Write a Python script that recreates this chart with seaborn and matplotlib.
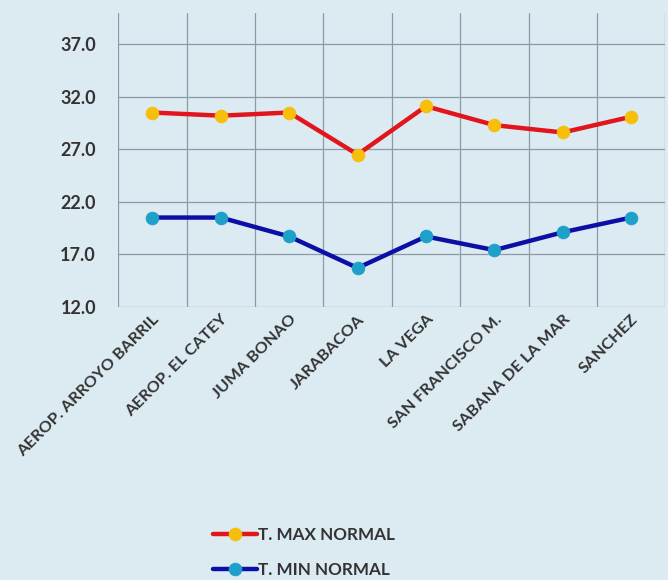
import pandas as pd
import seaborn as sns
import matplotlib
matplotlib.use('Agg')
import matplotlib.pyplot as plt
from matplotlib.ticker import FixedLocator

# Data
stations = ["AEROP. ARROYO BARRIL", "AEROP. EL CATEY", "JUMA BONAO", "JARABACOA",
            "LA VEGA", "SAN FRANCISCO M.", "SABANA DE LA MAR", "SANCHEZ"]
t_max = [30.5, 30.2, 30.5, 26.5, 31.1, 29.3, 28.6, 30.1]
t_min = [20.5, 20.5, 18.7, 15.7, 18.7, 17.4, 19.1, 20.5]
y_ticks = [12.0, 17.0, 22.0, 27.0, 32.0, 37.0]

bg = "#dcebf2"
sns.set_theme(style="white")
plt.rcParams['font.family'] = ['Lato', 'DejaVu Sans']

df = pd.DataFrame({"station": stations, "max": t_max, "min": t_min})

fig = plt.figure(figsize=(6.68, 5.80), dpi=100, facecolor=bg)
ax = fig.add_axes([0.177, 0.471, 0.819, 0.507])
ax.set_facecolor(bg)

sns.lineplot(data=df, x="station", y="max", sort=False, ax=ax, color="#e3151c",
             linewidth=3.2, marker="o", markersize=9, markerfacecolor="#f7be0b",
             markeredgecolor="#f7be0b", label="T. MAX NORMAL", legend=False)
sns.lineplot(data=df, x="station", y="min", sort=False, ax=ax, color="#0b0fa6",
             linewidth=3.2, marker="o", markersize=9, markerfacecolor="#1ea1c9",
             markeredgecolor="#1ea1c9", label="T. MIN NORMAL", legend=False)

ax.set_xlim(-0.5, len(stations) - 0.5)
ax.set_ylim(12, 40)
ax.set_yticks(y_ticks)
ax.set_yticklabels([f"{v:.1f}" for v in y_ticks], fontsize=13, fontweight="bold", color="#333333")
ax.set_xticks(range(len(stations)))
ax.set_xticklabels(stations, rotation=45, ha="right", rotation_mode="anchor",
                   fontsize=11.8, fontweight="bold", color="#333333")
ax.xaxis.set_minor_locator(FixedLocator([i - 0.5 for i in range(len(stations) + 1)]))
ax.tick_params(axis="both", which="both", length=0)
ax.tick_params(axis="y", pad=16)
ax.tick_params(axis="x", pad=4)
ax.grid(axis="y", which="major", color="#8c9ba6", linewidth=0.9)
ax.grid(axis="x", which="minor", color="#8c9ba6", linewidth=0.9)
ax.grid(axis="x", which="major", visible=False)
ax.set_xlabel("")
ax.set_ylabel("")
for s in ax.spines.values():
    s.set_visible(False)

handles, labels = ax.get_legend_handles_labels()
fig.legend(handles, labels, loc="center", bbox_to_anchor=(0.455, 0.047),
           frameon=False, prop={"weight": "bold", "size": 12.3}, handlelength=2.6,
           handletextpad=0.05, labelspacing=1.1, labelcolor="#333333")

fig.savefig("out.png", dpi=100, facecolor=bg)
